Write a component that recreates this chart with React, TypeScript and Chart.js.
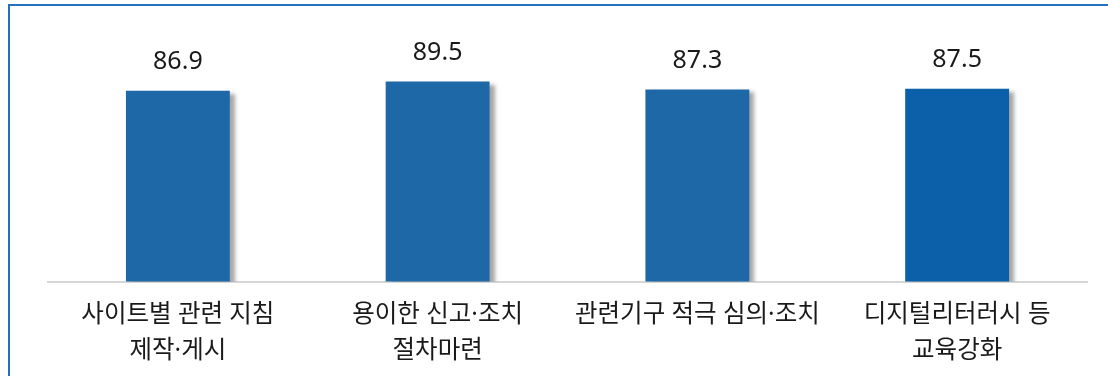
import React, { useEffect, useRef } from "react";
import { Chart, registerables } from "chart.js";

Chart.register(...registerables);

const categories: string[][] = [
  ["사이트별 관련 지침", "제작·게시"],
  ["용이한 신고·조치", "절차마련"],
  ["관련기구 적극 심의·조치"],
  ["디지털리터러시 등", "교육강화"],
];
const values: number[] = [86.9, 89.5, 87.3, 87.5];
const barColors: string[] = ["#1f68a8", "#1f68a8", "#1f68a8", "#0c60a9"];

const FONT = "'Noto Sans', 'Noto Sans CJK KR', sans-serif";

const shadowPlugin = {
  id: "barShadow",
  beforeDatasetsDraw(chart: any) {
    const ctx = chart.ctx;
    ctx.save();
    ctx.shadowColor = "rgba(0,0,0,0.35)";
    ctx.shadowOffsetX = 5;
    ctx.shadowOffsetY = 3;
    ctx.shadowBlur = 4;
  },
  afterDatasetsDraw(chart: any) {
    chart.ctx.restore();
  },
};

const labelPlugin = {
  id: "valueLabels",
  afterDraw(chart: any) {
    const ctx = chart.ctx;
    const meta = chart.getDatasetMeta(0);
    ctx.save();
    ctx.font = `25px ${FONT}`;
    ctx.fillStyle = "#1a1a1a";
    ctx.textAlign = "center";
    ctx.textBaseline = "middle";
    meta.data.forEach((bar: any, i: number) => {
      ctx.fillText(values[i].toFixed(1), bar.x, bar.y - 28.5);
    });
    ctx.restore();
  },
};

export default function App() {
  const ref = useRef<HTMLCanvasElement>(null);
  useEffect(() => {
    if (!ref.current) return;
    const chart = new Chart(ref.current, {
      type: "bar",
      data: {
        labels: categories,
        datasets: [
          {
            data: values,
            backgroundColor: barColors,
            barPercentage: 0.4,
            categoryPercentage: 1,
          },
        ],
      },
      options: {
        animation: false,
        responsive: false,
        layout: { padding: { left: 48, right: 21, top: 44, bottom: 0 } },
        plugins: {
          legend: { display: false },
          tooltip: { enabled: false },
        },
        scales: {
          x: {
            grid: { display: false, drawTicks: false },
            border: { display: true, color: "#d6d6d6", width: 2 },
            afterFit: (axis: any) => {
              axis.height = 94.5;
            },
            ticks: {
              color: "#1a1a1a",
              padding: 15.5,
              maxRotation: 0,
              autoSkip: false,
              font: { family: FONT, size: 24.5, lineHeight: 36 / 24.5 },
            },
          },
          y: {
            display: false,
            min: 33.6,
            max: 100,
          },
        },
      },
      plugins: [shadowPlugin, labelPlugin],
    });
    return () => chart.destroy();
  }, []);
  return (
    <div style={{ position: "absolute", left: 0, top: 0, width: 1108, height: 376, background: "#fff", overflow: "hidden" }}>
      <div
        style={{
          position: "absolute",
          left: 8,
          top: 4,
          width: 1200,
          height: 400,
          borderTop: "2px solid #2370c0",
          borderLeft: "2px solid #2370c0",
          boxSizing: "border-box",
        }}
      />
      <canvas ref={ref} width={1108} height={376} style={{ position: "absolute", left: 0, top: 0, display: "block" }} />
    </div>
  );
}
